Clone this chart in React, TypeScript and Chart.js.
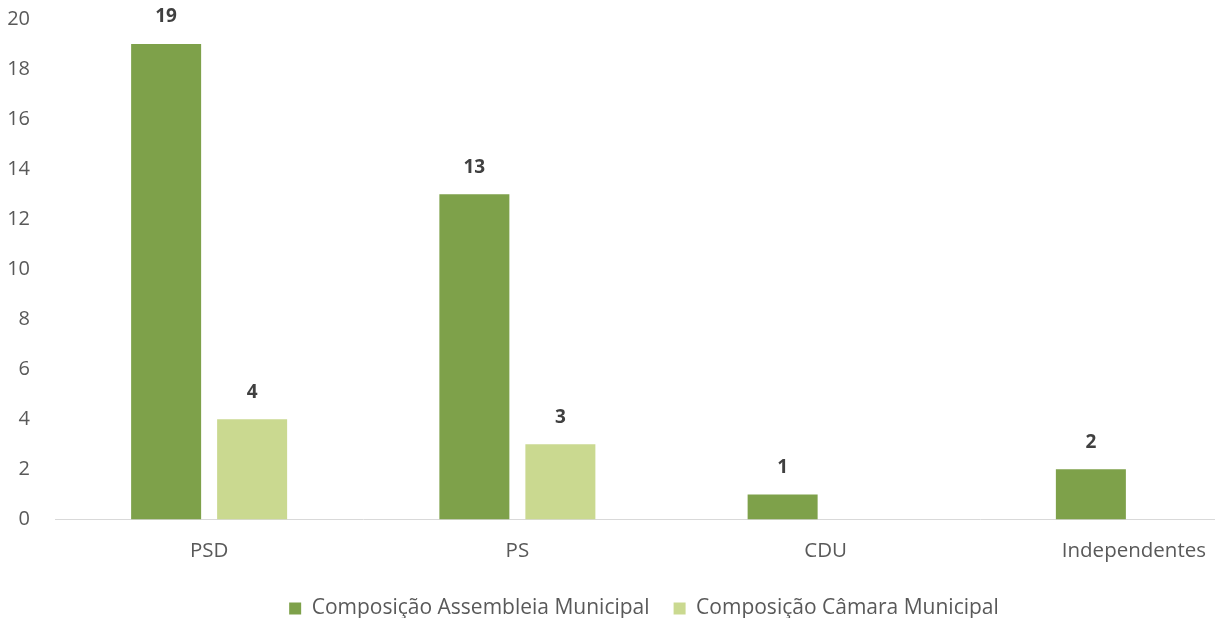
import React, { useEffect, useRef } from "react";
import { Chart, registerables } from "chart.js";

Chart.register(...registerables);

const categories = ["PSD", "PS", "CDU", "Independentes"];
const assembleia = [19, 13, 1, 2];
const camara: (number | null)[] = [4, 3, null, null];
const seriesNames = ["Composição Assembleia Municipal", "Composição Câmara Municipal"];
const yTicks = [0, 2, 4, 6, 8, 10, 12, 14, 16, 18, 20];

const FONT = "'Open Sans', sans-serif";

const valueLabels = {
  id: "valueLabels",
  afterDatasetsDraw(chart: any) {
    const ctx = chart.ctx;
    ctx.save();
    ctx.font = `bold 19px ${FONT}`;
    ctx.fillStyle = "#404040";
    ctx.textAlign = "center";
    ctx.textBaseline = "middle";
    chart.data.datasets.forEach((ds: any, i: number) => {
      const meta = chart.getDatasetMeta(i);
      meta.data.forEach((el: any, j: number) => {
        const v = ds.data[j];
        if (v === null || v === undefined) return;
        ctx.fillText(String(v), el.x, el.y - 27);
      });
    });
    ctx.restore();
  },
};

export default function App() {
  const ref = useRef<HTMLCanvasElement>(null);
  useEffect(() => {
    if (!ref.current) return;
    const chart = new Chart(ref.current, {
      type: "bar",
      data: {
        labels: categories,
        datasets: [
          {
            label: seriesNames[0],
            data: assembleia,
            backgroundColor: "#7ea14a",
            categoryPercentage: 0.558,
            barPercentage: 0.814,
          },
          {
            label: seriesNames[1],
            data: camara,
            backgroundColor: "#cad990",
            categoryPercentage: 0.558,
            barPercentage: 0.814,
          },
        ],
      },
      options: {
        responsive: false,
        animation: false,
        layout: { padding: { top: 19, right: 30, left: 0, bottom: 21 } },
        plugins: {
          tooltip: { enabled: false },
          legend: {
            position: "bottom",
            labels: {
              boxWidth: 12,
              boxHeight: 12,
              padding: 24,
              color: "#595959",
              font: { family: FONT, size: 21 },
            },
          },
        },
        scales: {
          x: {
            grid: { display: false },
            border: { display: true, color: "#d9d9d9", width: 1 },
            ticks: { color: "#595959", font: { family: FONT, size: 20.5 }, padding: 11 },
          },
          y: {
            min: 0,
            max: 20,
            afterBuildTicks: (scale: any) => {
              scale.ticks = yTicks.map((v) => ({ value: v }));
            },
            afterFit: (scale: any) => {
              scale.width = 55;
              scale.paddingTop = 0;
              scale.paddingBottom = 0;
            },
            grid: { display: false, drawTicks: false },
            border: { display: false },
            ticks: { color: "#595959", font: { family: FONT, size: 20 }, padding: 25 },
          },
        },
      },
      plugins: [valueLabels],
    });
    return () => chart.destroy();
  }, []);
  return (
    <div style={{ position: "fixed", left: 0, top: 0, width: 1215, height: 618, overflow: "hidden", background: "#fff" }}>
      <canvas ref={ref} width={1318} height={650} style={{ display: "block" }} />
    </div>
  );
}
